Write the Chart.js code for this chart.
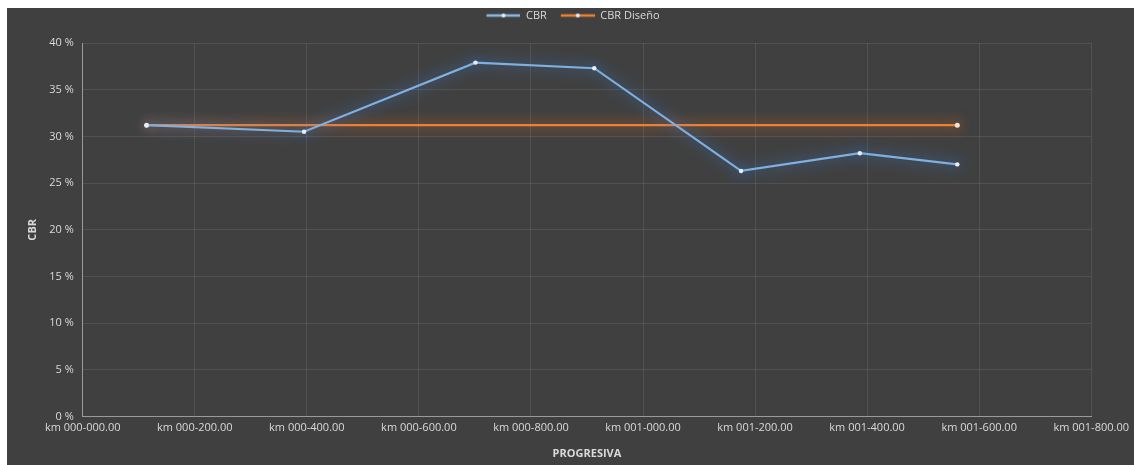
<!DOCTYPE html>
<html>
<head>
<meta charset="utf-8">
<script src="https://cdn.jsdelivr.net/npm/chart.js@4/dist/chart.umd.min.js"></script>
<style>
  html, body { margin: 0; padding: 0; background: #ffffff; }
  #wrap { position: absolute; left: 7px; top: 8px; width: 1127px; height: 457px; background: #404040; }
</style>
</head>
<body>
<div id="wrap"><canvas id="cbr-chart"></canvas></div>
<script>
// CBR por progresiva (metros desde km 000-000.00)
const progresivas = [114, 395, 701, 913, 1175, 1387, 1561];
const cbrValues = [31.2, 30.5, 37.9, 37.3, 26.3, 28.2, 27.0];
const cbrDiseno = [31.2, 31.2, 31.2, 31.2, 31.2, 31.2, 31.2];
const xTickLabels = [
  "km 000-000.00", "km 000-200.00", "km 000-400.00", "km 000-600.00", "km 000-800.00",
  "km 001-000.00", "km 001-200.00", "km 001-400.00", "km 001-600.00", "km 001-800.00"
];
const yTicks = [0, 5, 10, 15, 20, 25, 30, 35, 40];

const BLUE = "#7fb0e0";
const ORANGE = "#ee8034";
const TEXT = "#d9d9d9";
const FONT = "'Open Sans', 'DejaVu Sans', sans-serif";

// line-with-dot swatch for the legend (left margin keeps items apart)
function legendSwatch(color) {
  const c = document.createElement("canvas");
  c.width = 46; c.height = 8;
  const g = c.getContext("2d");
  g.strokeStyle = color; g.lineWidth = 2.5;
  g.beginPath(); g.moveTo(12, 4); g.lineTo(46, 4); g.stroke();
  g.fillStyle = "#e8f0f8";
  g.beginPath(); g.arc(29, 4, 2, 0, Math.PI * 2); g.fill();
  return c;
}
const swatches = [legendSwatch("#8cb8e6"), legendSwatch(ORANGE)];

// soft glow behind each series
const glowPlugin = {
  id: "glow",
  beforeDatasetDraw(chart, args) {
    const ds = chart.data.datasets[args.index];
    const ctx = chart.ctx;
    ctx.save();
    ctx.shadowColor = ds.glowColor;
    ctx.shadowBlur = 14;
  },
  afterDatasetDraw(chart) {
    chart.ctx.restore();
  }
};

// extra space between legend and plot
const legendGap = {
  id: "legendGap",
  beforeInit(chart) {
    const fit = chart.legend.fit;
    chart.legend.fit = function () {
      fit.call(this);
      this.height += 12;
    };
  }
};

const toPoints = (ys) => progresivas.map((x, i) => ({ x: x, y: ys[i] }));

new Chart(document.getElementById("cbr-chart"), {
  type: "line",
  data: {
    datasets: [
      {
        label: "CBR",
        data: toPoints(cbrValues),
        borderColor: BLUE,
        borderWidth: 2.2,
        glowColor: "rgba(60, 135, 235, 1)",
        pointRadius: 2.2,
        pointBackgroundColor: "#e6f0fa",
        pointBorderColor: "#e6f0fa",
        pointBorderWidth: 0,
        tension: 0
      },
      {
        label: "CBR Diseño",
        data: toPoints(cbrDiseno),
        borderColor: ORANGE,
        borderWidth: 2.2,
        glowColor: "rgba(240, 115, 30, 1)",
        pointRadius: progresivas.map((_, i) => (i === 0 || i === progresivas.length - 1 ? 2.5 : 0)),
        pointBackgroundColor: "#fbe2cf",
        pointBorderColor: "#fbe2cf",
        pointBorderWidth: 0,
        tension: 0
      }
    ]
  },
  plugins: [glowPlugin, legendGap],
  options: {
    responsive: true,
    maintainAspectRatio: false,
    animation: false,
    layout: { padding: { left: 19, right: 26, top: 0, bottom: 5 } },
    plugins: {
      tooltip: { enabled: false },
      legend: {
        position: "top",
        labels: {
          color: TEXT,
          font: { family: FONT, size: 11 },
          usePointStyle: true,
          pointStyleWidth: 46,
          boxHeight: 8,
          padding: 2,
          generateLabels(chart) {
            const items = Chart.defaults.plugins.legend.labels.generateLabels(chart);
            items.forEach((it, i) => { it.pointStyle = swatches[i]; });
            return items;
          }
        }
      }
    },
    scales: {
      x: {
        type: "linear",
        min: 0,
        max: 1800,
        afterBuildTicks(axis) {
          axis.ticks = xTickLabels.map((_, i) => ({ value: i * 200 }));
        },
        ticks: {
          color: TEXT,
          font: { family: FONT, size: 11 },
          padding: 5,
          maxRotation: 0,
          autoSkip: false,
          callback: (v) => xTickLabels[Math.round(v / 200)]
        },
        grid: { color: "rgba(255,255,255,0.09)", drawTicks: false },
        border: { color: "#9a9a9a", width: 1 },
        title: {
          display: true,
          text: "PROGRESIVA",
          color: TEXT,
          font: { family: FONT, size: 11, weight: "bold" },
          padding: { top: 7, bottom: 0 }
        }
      },
      y: {
        min: 0,
        max: 40,
        afterBuildTicks(axis) {
          axis.ticks = yTicks.map((v) => ({ value: v }));
        },
        ticks: {
          color: TEXT,
          font: { family: FONT, size: 11 },
          padding: 9,
          callback: (v) => v + " %"
        },
        grid: { color: "rgba(255,255,255,0.09)", drawTicks: false },
        border: { color: "#9a9a9a", width: 1 },
        title: {
          display: true,
          text: "CBR",
          color: TEXT,
          font: { family: FONT, size: 11, weight: "bold" },
          padding: { top: 0, bottom: 1 }
        }
      }
    }
  }
});
</script>
</body>
</html>
